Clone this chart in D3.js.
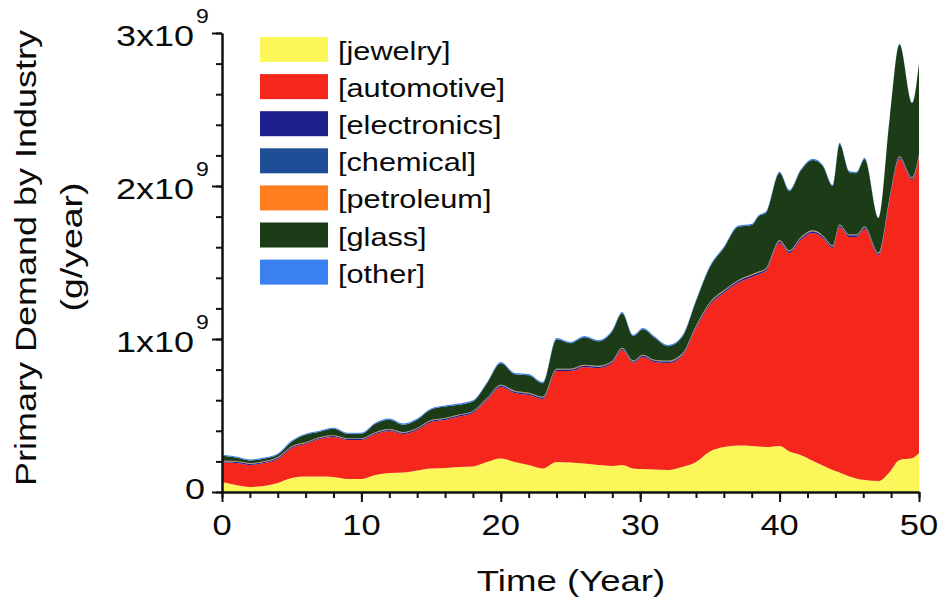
<!DOCTYPE html>
<html><head><meta charset="utf-8">
<script src="https://cdn.jsdelivr.net/npm/d3@7"></script>
<style>
body{margin:0;background:#fff}
svg{display:block}
text{font-family:"Liberation Sans",Arial,Helvetica,sans-serif;fill:#0a0a0a}
</style>
</head><body>
<svg id="c" width="943" height="604"></svg>
<script>
// Time (years)
const years=[0,1,2,3,4,5,6,7,8,9,10,11,12,13,14,15,16,17,18,19,20,21,22,23,24,25,26,27,28,28.7,29.5,30.2,31,32,33,34,35,36,37,38,38.5,39,40,40.7,41.5,42.4,43.1,43.8,44.3,45,45.5,46.1,47.1,47.9,48.6,49.5,50];
// Demand by industry, in 10^9 g/year
const jewelry=[0.065,0.046,0.033,0.039,0.059,0.092,0.101,0.101,0.098,0.085,0.085,0.111,0.124,0.127,0.141,0.154,0.157,0.163,0.167,0.196,0.219,0.196,0.176,0.154,0.196,0.193,0.186,0.176,0.170,0.176,0.154,0.150,0.147,0.144,0.163,0.196,0.265,0.294,0.304,0.301,0.297,0.294,0.301,0.265,0.242,0.203,0.173,0.144,0.127,0.101,0.088,0.078,0.072,0.131,0.209,0.220,0.255];
const automotive=[0.127,0.144,0.144,0.150,0.157,0.196,0.212,0.245,0.261,0.255,0.255,0.268,0.275,0.252,0.265,0.304,0.314,0.330,0.350,0.405,0.467,0.451,0.458,0.454,0.595,0.598,0.631,0.634,0.673,0.752,0.690,0.732,0.703,0.699,0.725,0.876,0.958,1.007,1.062,1.105,1.127,1.150,1.327,1.297,1.405,1.490,1.487,1.451,1.605,1.565,1.578,1.641,1.477,1.778,1.967,1.819,1.935];
const electronics=[0.007,0.007,0.007,0.007,0.007,0.007,0.007,0.007,0.007,0.007,0.007,0.007,0.007,0.007,0.007,0.007,0.008,0.008,0.008,0.008,0.008,0.008,0.008,0.008,0.008,0.008,0.008,0.008,0.008,0.008,0.008,0.008,0.008,0.008,0.008,0.008,0.010,0.010,0.010,0.010,0.010,0.010,0.010,0.010,0.010,0.010,0.010,0.010,0.010,0.010,0.010,0.010,0.010,0.010,0.010,0.010,0.010];
const chemical=[0.002,0.002,0.002,0.002,0.002,0.002,0.002,0.002,0.002,0.002,0.002,0.002,0.002,0.002,0.002,0.002,0.002,0.002,0.002,0.002,0.003,0.003,0.003,0.003,0.003,0.003,0.003,0.003,0.003,0.003,0.003,0.003,0.003,0.003,0.003,0.003,0.003,0.003,0.003,0.003,0.003,0.003,0.003,0.003,0.003,0.003,0.003,0.003,0.003,0.003,0.003,0.003,0.003,0.003,0.003,0.003,0.003];
const petroleum=[0.003,0.003,0.003,0.003,0.003,0.003,0.003,0.003,0.003,0.003,0.003,0.003,0.003,0.003,0.003,0.003,0.003,0.003,0.003,0.003,0.004,0.004,0.004,0.004,0.004,0.004,0.004,0.004,0.004,0.004,0.004,0.004,0.004,0.004,0.004,0.004,0.004,0.004,0.004,0.004,0.004,0.004,0.004,0.004,0.004,0.004,0.004,0.004,0.004,0.004,0.004,0.004,0.004,0.004,0.004,0.004,0.004];
const glass=[0.033,0.023,0.017,0.017,0.017,0.029,0.049,0.036,0.042,0.029,0.029,0.055,0.062,0.049,0.055,0.069,0.075,0.065,0.062,0.095,0.140,0.108,0.114,0.088,0.193,0.167,0.180,0.160,0.193,0.225,0.160,0.167,0.147,0.095,0.108,0.160,0.231,0.277,0.349,0.322,0.362,0.362,0.440,0.388,0.434,0.460,0.453,0.388,0.525,0.407,0.401,0.440,0.224,0.518,0.734,0.486,0.597];
const other=[0.007,0.007,0.007,0.007,0.007,0.007,0.007,0.007,0.007,0.007,0.007,0.007,0.007,0.007,0.007,0.007,0.007,0.007,0.007,0.007,0.008,0.008,0.008,0.008,0.008,0.008,0.008,0.008,0.008,0.008,0.008,0.008,0.008,0.008,0.008,0.008,0.008,0.008,0.008,0.008,0.008,0.008,0.008,0.008,0.008,0.008,0.008,0.008,0.008,0.008,0.008,0.008,0.003,0.003,0.003,0.003,0.003];

const keys=["jewelry","automotive","electronics","chemical","petroleum","glass","other"];
const colors=["#fbf65a","#f5261c","#1b1f8c","#1f4e96","#ff7d1e","#1c3c18","#3b80f0"];
const yTicks=[0,1,2,3];
const xTicks=[0,10,20,30,40,50];
const series={jewelry,automotive,electronics,chemical,petroleum,glass,other};

const svg=d3.select("#c");
const x=d3.scaleLinear().domain([0,50]).range([222,919]);
const y=d3.scaleLinear().domain([0,3]).range([492,33]);

const table=years.map((t,i)=>{const r={t};keys.forEach(k=>r[k]=series[k][i]);return r;});
const stacked=d3.stack().keys(keys)(table);
const area=d3.area().x(d=>x(d.data.t)).y0(d=>y(d[0])).y1(d=>y(d[1])).curve(d3.curveMonotoneX);

svg.append("clipPath").attr("id","clip").append("rect")
  .attr("x",x(0)).attr("y",0).attr("width",x(50)-x(0)).attr("height",y(0));
svg.append("g").attr("clip-path","url(#clip)")
  .selectAll("path").data(stacked).join("path")
  .attr("fill",(d,i)=>colors[i]).attr("d",area);

// axes
function styleAxis(g){g.selectAll("path,line").attr("stroke","#111").attr("stroke-width",2);g.selectAll("text").remove();}
svg.append("g").attr("transform",`translate(${x(0)},0)`)
  .call(d3.axisLeft(y).tickValues(d3.range(0,3.01,0.2)).tickSize(6).tickSizeOuter(0).tickFormat(""))
  .call(styleAxis);
svg.append("g").attr("transform",`translate(${x(0)},0)`)
  .call(d3.axisLeft(y).tickValues(yTicks).tickSize(10).tickSizeOuter(0).tickFormat(""))
  .call(styleAxis);
svg.append("g").attr("transform",`translate(0,${y(0)})`)
  .call(d3.axisBottom(x).tickValues(d3.range(0,50.1,2)).tickSize(6).tickSizeOuter(0).tickFormat(""))
  .call(styleAxis);
svg.append("g").attr("transform",`translate(0,${y(0)})`)
  .call(d3.axisBottom(x).tickValues(xTicks).tickSize(10).tickSizeOuter(0).tickFormat(""))
  .call(styleAxis);

// y tick labels
yTicks.forEach(v=>{
  const g=svg.append("g").attr("transform",`translate(${v===0?205:194},${y(v)+(v===0?7:13)}) scale(1.2,1)`);
  g.append("text").attr("text-anchor","end").attr("font-size",30).text(v===0?"0":v+"x10");
  if(v!==0){
    svg.append("g").attr("transform",`translate(196,${y(v)-10}) scale(1.15,1)`)
      .append("text").attr("font-size",20).text("9");
  }
});
// x tick labels
xTicks.forEach(v=>{
  svg.append("g").attr("transform",`translate(${x(v)},535) scale(1.15,1)`)
    .append("text").attr("text-anchor","middle").attr("font-size",30).text(v);
});

// axis titles
svg.append("g").attr("transform","translate(571,591) scale(1.22,1)")
  .append("text").attr("text-anchor","middle").attr("font-size",30).text("Time (Year)");
svg.append("g").attr("transform","translate(36,258) rotate(-90) scale(1.2,1)")
  .append("text").attr("text-anchor","middle").attr("font-size",30).text("Primary Demand by Industry");
svg.append("g").attr("transform","translate(82,247) rotate(-90) scale(1.25,1)")
  .append("text").attr("text-anchor","middle").attr("font-size",30).text("(g/year)");

// legend
const leg=svg.append("g");
keys.forEach((k,i)=>{
  const top=37+i*37.1;
  leg.append("rect").attr("x",260).attr("y",top).attr("width",68).attr("height",25).attr("fill",colors[i]);
  leg.append("g").attr("transform",`translate(338,${top+23}) scale(1.18,1)`)
    .append("text").attr("font-size",26).text(`[${k}]`);
});
</script>
</body></html>
